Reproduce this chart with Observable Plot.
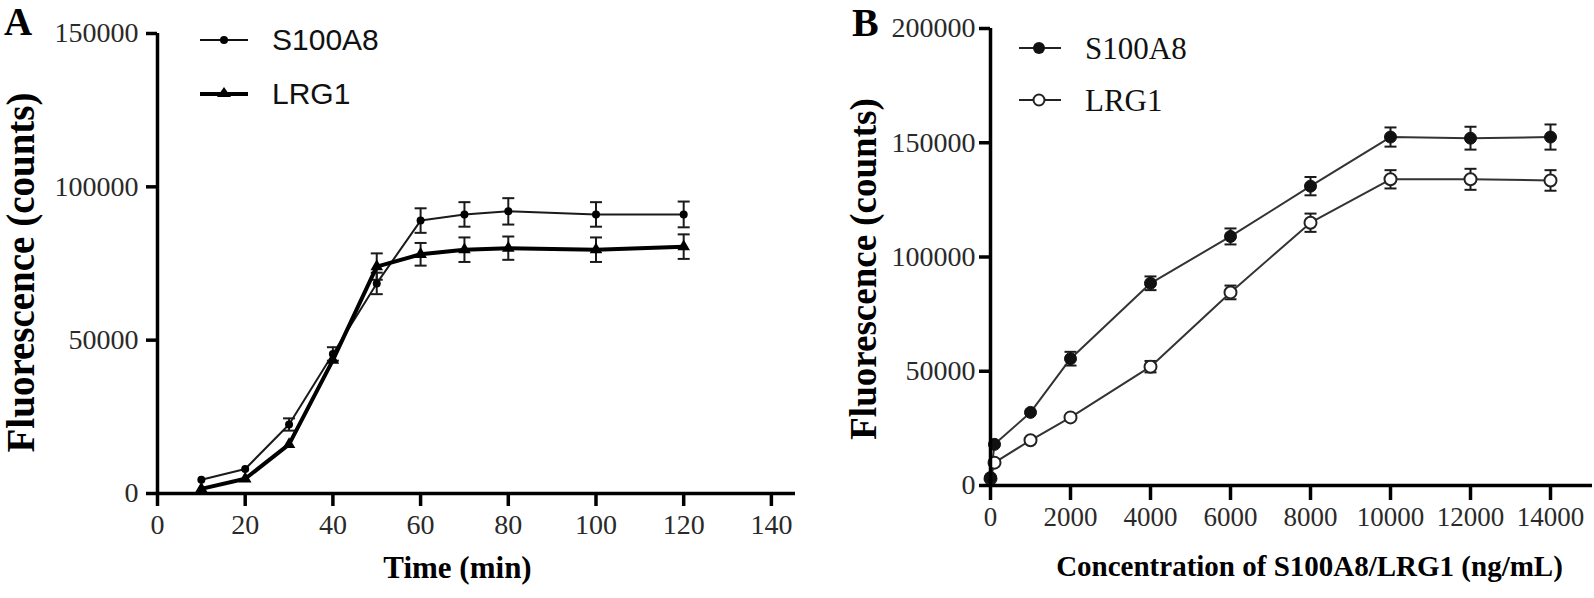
<!DOCTYPE html>
<html><head><meta charset="utf-8">
<script src="https://cdn.jsdelivr.net/npm/d3@7"></script>
<script src="https://cdn.jsdelivr.net/npm/@observablehq/plot@0.6"></script>
<style>
body{margin:0;background:#fff;}
#wrap{position:relative;width:1594px;height:598px;overflow:hidden;background:#fff;}
#a{position:absolute;left:0;top:0;}
#b{position:absolute;left:800px;top:0;}
#a svg text, #b svg text{font-family:"Liberation Serif","Times New Roman",serif !important;}
.panel{position:absolute;font-family:"Liberation Serif",serif;font-weight:bold;color:#000;line-height:1;}
.leg{position:absolute;display:flex;align-items:center;line-height:1;color:#111;}
.leg svg{display:block;margin-right:0;}
</style></head>
<body>
<div id="wrap">
  <div id="a"></div>
  <div id="b"></div>
  <div class="panel" style="left:4px;top:2px;font-size:39px;">A</div>
  <div class="panel" style="left:852px;top:3px;font-size:40px;">B</div>
  <div id="legA"></div>
  <div id="legB"></div>
</div>
<script>
// ---------- Panel A data ----------
const timeMin   = [10, 20, 30, 40, 50, 60, 70, 80, 100, 120];
const aS100A8    = [4500, 8000, 22500, 45500, 68500, 89000, 91000, 92000, 91000, 91000];
const aS100A8Err = [800, 900, 2000, 2200, 3500, 4000, 4000, 4300, 4000, 4200];
const aLRG1      = [1500, 4800, 16000, 43500, 74000, 78000, 79500, 80000, 79500, 80500];
const aLRG1Err   = [500, 800, 1200, 1500, 4300, 3700, 4000, 3800, 4000, 4000];
const aTicksX = [0, 20, 40, 60, 80, 100, 120, 140];
const aTicksY = [0, 50000, 100000, 150000];
const aLabelX = "Time (min)";
const aLabelY = "Fluorescence (counts)";

// ---------- Panel B data ----------
const concNgMl   = [0, 100, 1000, 2000, 4000, 6000, 8000, 10000, 12000, 14000];
const bS100A8    = [3500, 18000, 32000, 55500, 88500, 109000, 131000, 152500, 152000, 152500];
const bS100A8Err = [1500, 1500, 1500, 3000, 3000, 3500, 4000, 4200, 5000, 5500];
const bLRG1      = [3000, 10000, 19800, 29800, 52000, 84500, 115000, 134000, 134000, 133500];
const bLRG1Err   = [1000, 1200, 1200, 1500, 2500, 3000, 4000, 4000, 4600, 4500];
const bTicksX = [0, 2000, 4000, 6000, 8000, 10000, 12000, 14000];
const bTicksY = [0, 50000, 100000, 150000, 200000];
const bLabelX = "Concentration of S100A8/LRG1 (ng/mL)";
const bLabelY = "Fluorescence (counts)";

const seriesNames = ["S100A8", "LRG1"];

const serif = "Liberation Serif, Times New Roman, serif";
const sans = "Liberation Sans, Arial, sans-serif";
const ink = "#1a1a1a";

function rows(xs, ys, es, name) {
  return xs.map((x, i) => ({x, y: ys[i], err: es[i], lo: ys[i] - es[i], hi: ys[i] + es[i], series: name}));
}
// horizontal cap symbol for error bars
const capSym = {draw(ctx, size) { const w = Math.sqrt(size / Math.PI); ctx.moveTo(-w, 0); ctx.lineTo(w, 0); }};

// like GraphPad, error bars shorter than the symbol are hidden
function errorMarks(data, minErr, capR, sw) {
  const shown = data.filter(d => d.err >= minErr);
  return [
    Plot.ruleX(shown, {x: "x", y1: "lo", y2: "hi", stroke: ink, strokeWidth: sw}),
    Plot.dot(shown, {x: "x", y: "lo", symbol: capSym, r: capR, stroke: ink, strokeWidth: sw, fill: "none"}),
    Plot.dot(shown, {x: "x", y: "hi", symbol: capSym, r: capR, stroke: ink, strokeWidth: sw, fill: "none"})
  ];
}

// ---------- Panel A ----------
const aS = rows(timeMin, aS100A8, aS100A8Err, seriesNames[0]);
const aL = rows(timeMin, aLRG1, aLRG1Err, seriesNames[1]);
const aXMax = 145.5;
const plotA = Plot.plot({
  width: 800, height: 598,
  marginLeft: 157, marginRight: 5, marginTop: 33, marginBottom: 105,
  x: {domain: [0, aXMax]},
  y: {domain: [0, 150000]},
  style: {background: "#fff", color: ink, overflow: "visible", fontFamily: serif},
  marks: [
    ...errorMarks(aS, 1800, 6, 2),
    ...errorMarks(aL, 1800, 6, 2),
    Plot.line(aS, {x: "x", y: "y", stroke: ink, strokeWidth: 2}),
    Plot.line(aL, {x: "x", y: "y", stroke: "#000", strokeWidth: 4}),
    Plot.dot(aS, {x: "x", y: "y", r: 4, fill: "#000", stroke: "none"}),
    Plot.dot(aL, {x: "x", y: "y", r: 6, symbol: "triangle2", fill: "#000", stroke: "none"}),
    Plot.ruleX([0], {y1: 0, y2: 150000, stroke: "#000", strokeWidth: 3.5}),
    Plot.ruleY([0], {x1: 0, x2: aXMax, stroke: "#000", strokeWidth: 3.5}),
    Plot.axisX(aTicksX, {tickSize: 13, tickPadding: 8, fontSize: 28, fontFamily: serif, fill: "#2a2a2a", strokeWidth: 3.5, stroke: "#000", label: null, tickFormat: d => String(d)}),
    Plot.axisY(aTicksY, {tickSize: 11, tickPadding: 8, fontSize: 28, fontFamily: serif, fill: "#2a2a2a", strokeWidth: 3.5, stroke: "#000", label: null, tickFormat: d => String(d)}),
    Plot.text([aLabelX], {frameAnchor: "bottom", textAnchor: "middle", dx: -19, dy: 84, fontSize: 31, fontWeight: "bold", fontFamily: serif, fill: "#000"}),
    Plot.text([aLabelY], {frameAnchor: "left", textAnchor: "middle", rotate: -90, dx: -136, dy: 9, fontSize: 39, fontWeight: "bold", fontFamily: serif, fill: "#000"})
  ]
});
document.getElementById("a").appendChild(plotA);

// ---------- Panel B ----------
const bS = rows(concNgMl, bS100A8, bS100A8Err, seriesNames[0]);
const bL = rows(concNgMl, bLRG1, bLRG1Err, seriesNames[1]);
const bXMax = 15050;
const plotB = Plot.plot({
  width: 794, height: 598,
  marginLeft: 190, marginRight: 2, marginTop: 28, marginBottom: 113,
  x: {domain: [0, bXMax]},
  y: {domain: [0, 200000]},
  style: {background: "#fff", color: ink, overflow: "visible", fontFamily: serif},
  marks: [
    ...errorMarks(bS, 2500, 6, 2),
    ...errorMarks(bL, 2500, 6, 2),
    Plot.line(bS, {x: "x", y: "y", stroke: "#333", strokeWidth: 2}),
    Plot.line(bL, {x: "x", y: "y", stroke: "#333", strokeWidth: 2}),
    Plot.dot(bL, {x: "x", y: "y", r: 6, fill: "#fff", stroke: "#222", strokeWidth: 2}),
    Plot.dot(bS, {x: "x", y: "y", r: 6, fill: "#111", stroke: "#111", strokeWidth: 1}),
    Plot.ruleX([0], {y1: 0, y2: 200000, stroke: "#000", strokeWidth: 3.5}),
    Plot.ruleY([0], {x1: 0, x2: bXMax, stroke: "#000", strokeWidth: 3.5}),
    Plot.axisX(bTicksX, {tickSize: 15, tickPadding: 6, fontSize: 27, fontFamily: serif, fill: "#2a2a2a", strokeWidth: 3.5, stroke: "#000", label: null, tickFormat: d => String(d)}),
    Plot.axisY(bTicksY, {tickSize: 11, tickPadding: 4, fontSize: 28, fontFamily: serif, fill: "#2a2a2a", strokeWidth: 3.5, stroke: "#000", label: null, tickFormat: d => String(d)}),
    Plot.text([bLabelX], {frameAnchor: "bottom", textAnchor: "middle", dx: 18, dy: 90, fontSize: 29, fontWeight: "bold", fontFamily: serif, fill: "#000"}),
    Plot.text([bLabelY], {frameAnchor: "left", textAnchor: "middle", rotate: -90, dx: -126, dy: 12, fontSize: 37, fontWeight: "bold", fontFamily: serif, fill: "#000"})
  ]
});
document.getElementById("b").appendChild(plotB);

// ---------- Legends (HTML overlays) ----------
function legendRow(parent, left, top, sym, text, font, size) {
  const row = document.createElement("div");
  row.className = "leg";
  row.style.left = left + "px";
  row.style.top = top + "px";
  row.style.height = "0px";
  row.innerHTML = sym + `<span style="font-family:${font};font-size:${size}px;margin-left:24px;">${text}</span>`;
  parent.appendChild(row);
}
const legA = document.getElementById("legA");
legendRow(legA, 200, 40,
  `<svg width="48" height="20"><line x1="0" x2="48" y1="10" y2="10" stroke="#111" stroke-width="2"/><circle cx="24" cy="10" r="4" fill="#000"/></svg>`,
  seriesNames[0], sans, 30);
legendRow(legA, 200, 94,
  `<svg width="48" height="20"><line x1="0" x2="48" y1="10" y2="10" stroke="#000" stroke-width="4"/><path d="M24,3 L31,13 L17,13 Z" fill="#000"/></svg>`,
  seriesNames[1], sans, 30);
const legB = document.getElementById("legB");
legendRow(legB, 1019, 48,
  `<svg width="42" height="20"><line x1="0" x2="42" y1="10" y2="10" stroke="#222" stroke-width="2"/><circle cx="20" cy="10" r="6" fill="#111"/></svg>`,
  seriesNames[0], serif, 31);
legendRow(legB, 1019, 100,
  `<svg width="42" height="20"><line x1="0" x2="42" y1="10" y2="10" stroke="#222" stroke-width="2"/><circle cx="20" cy="10" r="5.5" fill="#fff" stroke="#222" stroke-width="2"/></svg>`,
  seriesNames[1], serif, 31);
</script>
</body></html>
